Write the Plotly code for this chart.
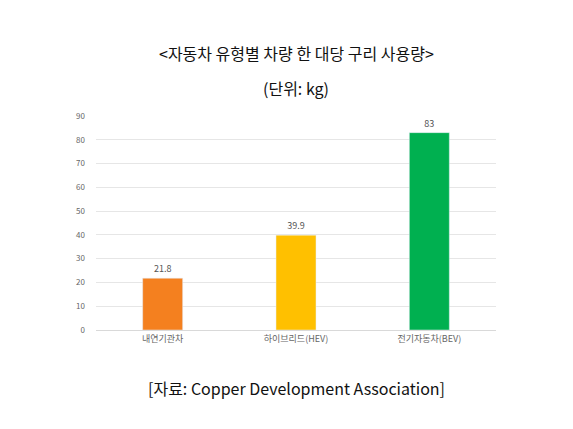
import plotly.graph_objects as go

categories = ["내연기관차", "하이브리드(HEV)", "전기자동차(BEV)"]
values = [21.8, 39.9, 83]
labels = ["21.8", "39.9", "83"]
colors = ["#F4801F", "#FFC000", "#00B050"]

B = 107
H = 214

def ypos(pix):
    return (429 - pix - B) / H

fig = go.Figure(go.Bar(
    x=categories, y=values, marker_color=colors, width=0.3,
    text=labels, textposition="outside",
    textfont=dict(size=9, color="#555555"), cliponaxis=False))

fig.update_layout(
    width=573, height=429, paper_bgcolor="white", plot_bgcolor="white",
    margin=dict(l=88, r=85, t=108, b=B),
    font=dict(family="Noto Sans CJK KR"),
    showlegend=False,
    xaxis=dict(tickfont=dict(size=9, color="#666666"), showline=True,
               linecolor="#d9d9d9", ticks=""),
    yaxis=dict(range=[0, 90], dtick=10, tickfont=dict(size=8, color="#666666"),
               gridcolor="#e6e6e6", zeroline=False, ticklabelstandoff=10),
    annotations=[
        dict(text="<자동차 유형별 차량 한 대당 구리 사용량>", xref="paper", yref="paper",
             x=0.5, y=ypos(45), yanchor="middle", showarrow=False,
             font=dict(size=16, color="#111111")),
        dict(text="(단위: kg)", xref="paper", yref="paper",
             x=0.5, y=ypos(80), yanchor="middle", showarrow=False,
             font=dict(size=16, color="#111111")),
        dict(text="[자료: Copper Development Association]", xref="paper", yref="paper",
             x=0.5, y=ypos(380), yanchor="middle", showarrow=False,
             font=dict(size=16, color="#111111")),
    ],
)
fig.write_html("out.html")
